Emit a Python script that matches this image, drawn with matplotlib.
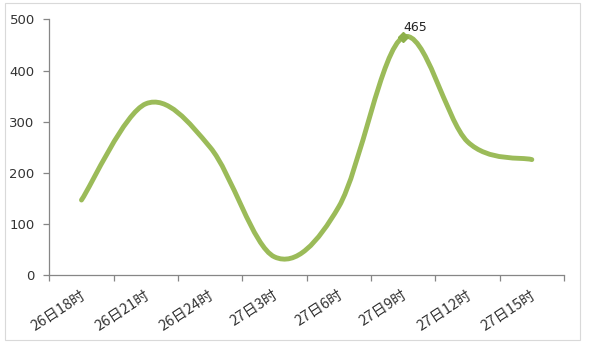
import numpy as np
import matplotlib.pyplot as plt
from matplotlib.path import Path
from matplotlib.patches import PathPatch, Rectangle

plt.rcParams['font.family'] = ['Noto Sans CJK SC', 'DejaVu Sans']

# data
categories = ['26日18时', '26日21时', '26日24时', '27日3时', '27日6时', '27日9时', '27日12时', '27日15时']
values = [147, 335, 250, 36, 134, 465, 261, 226]
peak_idx = 5

green = '#9BBB59'
axis_col = '#868686'

fig = plt.figure(figsize=(5.9, 3.47), dpi=100)
fig.patches.append(Rectangle((4.5/590, 1-340/347), 575/590, 337/347, transform=fig.transFigure,
                             facecolor='none', edgecolor='#D9D9D9', linewidth=0.8, zorder=-1))
ax = fig.add_axes([49.3/590, 1-275.3/347, (564-49.3)/590, (275.3-19.3)/347])
ax.patch.set_alpha(0)

n = len(values)
x = np.arange(n, dtype=float)
y = np.array(values, dtype=float)

# smoothed line (catmull-rom style bezier like excel)
verts = [(x[0], y[0])]
codes = [Path.MOVETO]
for i in range(n - 1):
    p0 = np.array([x[max(i-1, 0)], y[max(i-1, 0)]])
    p1 = np.array([x[i], y[i]])
    p2 = np.array([x[i+1], y[i+1]])
    p3 = np.array([x[min(i+2, n-1)], y[min(i+2, n-1)]])
    c1 = p1 + (p2 - p0) / 6
    c2 = p2 - (p3 - p1) / 6
    verts += [tuple(c1), tuple(c2), tuple(p2)]
    codes += [Path.CURVE4] * 3
ax.add_patch(PathPatch(Path(verts, codes), facecolor='none', edgecolor=green,
                       linewidth=3.5, capstyle='round', joinstyle='round', zorder=3))

ax.plot(x[peak_idx], y[peak_idx], marker='D', color='#8DB04A', markersize=5.5, zorder=4)
ax.annotate(str(values[peak_idx]), (x[peak_idx], y[peak_idx]), xytext=(0, 2),
            textcoords='offset points', ha='left', va='bottom', fontsize=9,
            family='DejaVu Sans', color='#222222')

ax.set_xlim(-0.5, n - 0.5)
ax.set_ylim(0, 500)
ax.set_yticks(range(0, 501, 100))
ax.set_xticks(np.arange(n + 1) - 0.5)
ax.set_xticklabels([])
for i, c in enumerate(categories):
    ax.text(i - 0.02, -0.05, c, transform=ax.get_xaxis_transform(), rotation=33,
            ha='right', va='top', rotation_mode='anchor', fontsize=10.5, color='#333333')

for s in ['top', 'right']:
    ax.spines[s].set_visible(False)
for s in ['left', 'bottom']:
    ax.spines[s].set_color(axis_col)
    ax.spines[s].set_linewidth(0.9)
ax.tick_params(axis='both', colors=axis_col, length=4.5, width=0.9)
ax.tick_params(axis='y', labelcolor='#333333', labelsize=9.5, pad=6)
for lab in ax.get_yticklabels():
    lab.set_family('DejaVu Sans')

fig.savefig('out.png', dpi=100)
